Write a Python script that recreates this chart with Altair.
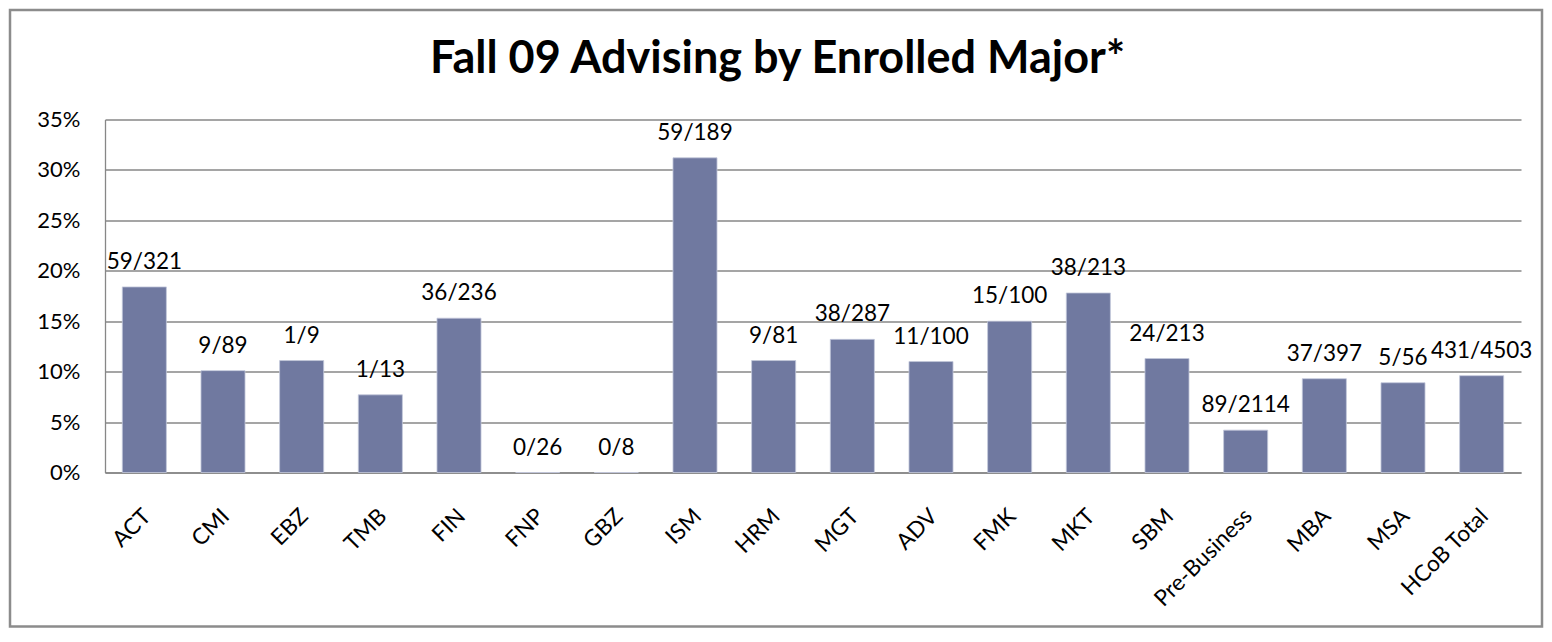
import altair as alt
import pandas as pd

majors = ["ACT", "CMI", "EBZ", "TMB", "FIN", "FNP", "GBZ", "ISM", "HRM", "MGT",
          "ADV", "FMK", "MKT", "SBM", "Pre-Business", "MBA", "MSA", "HCoB Total"]
shares = [0.184, 0.101, 0.111, 0.077, 0.153, 0.0, 0.0, 0.312, 0.111, 0.132,
          0.110, 0.150, 0.178, 0.113, 0.042, 0.093, 0.089, 0.096]
labels = ["59/321", "9/89", "1/9", "1/13", "36/236", "0/26", "0/8", "59/189", "9/81", "38/287",
          "11/100", "15/100", "38/213", "24/213", "89/2114", "37/397", "5/56", "431/4503"]
title_text = ["Fall 09 Advising by Enrolled Major*"]

df = pd.DataFrame({"major": majors, "share": shares, "label": labels})

FONT = "Lato"
GRID = "#878787"

x = alt.X("major:N", sort=majors, title=None,
          scale=alt.Scale(paddingInner=0.44, paddingOuter=0.22),
          axis=alt.Axis(labelAngle=-45, labelAlign="right", labelBaseline="top",
                        labelPadding=32, labelOffset=-5, ticks=False, domainColor=GRID,
                        domainWidth=1.3, labelFont=FONT, labelFontSize=22.5,
                        labelColor="#000000"))
y = alt.Y("share:Q", title=None,
          scale=alt.Scale(domain=[0, 0.35], nice=False),
          axis=alt.Axis(format=".0%", values=[0, 0.05, 0.1, 0.15, 0.2, 0.25, 0.3, 0.35],
                        ticks=False, labelPadding=25, domainColor=GRID, domainWidth=1.3,
                        gridColor=GRID, gridWidth=1.3,
                        labelFont=FONT, labelFontSize=22, labelColor="#000000"))

one = pd.DataFrame({"t": title_text})

frame = alt.Chart(one).mark_rect(
    fill=None, stroke="#8c8c8c", strokeWidth=2.5
).encode(x=alt.value(-95), x2=alt.value(1437), y=alt.value(-109.5), y2=alt.value(507))

title = alt.Chart(one).mark_text(
    font=FONT, fontSize=45, fontWeight="bold", color="#000000",
    align="center", baseline="alphabetic"
).encode(x=alt.value(672.5), y=alt.value(-46.5), text="t:N")

bars = alt.Chart(df).mark_bar(color="#7079A0", stroke="#c3c8da", strokeWidth=0.8).encode(x=x, y=y)
text = alt.Chart(df).mark_text(baseline="alphabetic", dy=-18, font=FONT, fontSize=22.5,
                               color="#000000").encode(x=x, y=y, text="label:N")

chart = alt.layer(frame, title, bars, text).properties(
    width=1416, height=353,
    autosize=alt.AutoSizeParams(type="none"),
    padding={"left": 97, "top": 111.5, "right": 23, "bottom": 155},
).configure_view(stroke=None)

chart.save("out.html", embed_options={"renderer": "svg", "actions": False})
